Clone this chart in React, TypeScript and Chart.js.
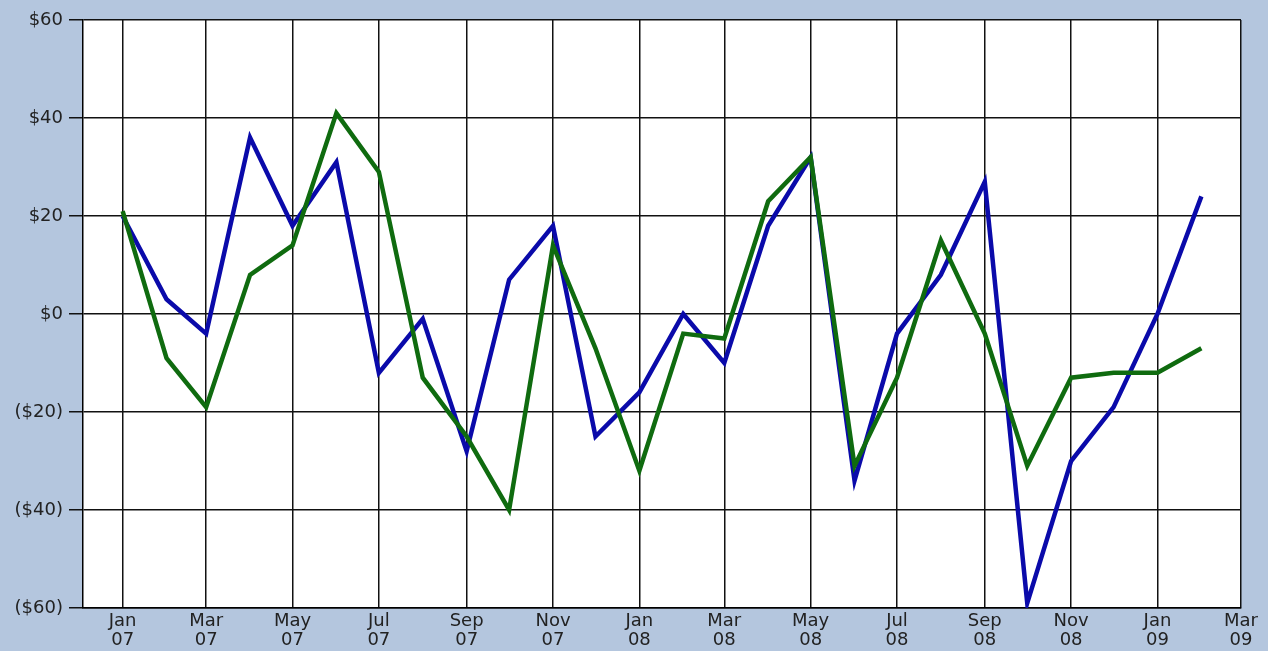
import React, { useEffect, useRef } from "react";
import { Chart, registerables } from "chart.js";

Chart.register(...registerables);

// Monthly observations, Jan 2007 .. Feb 2009
const months: string[] = [
  "2007-01", "2007-02", "2007-03", "2007-04", "2007-05", "2007-06",
  "2007-07", "2007-08", "2007-09", "2007-10", "2007-11", "2007-12",
  "2008-01", "2008-02", "2008-03", "2008-04", "2008-05", "2008-06",
  "2008-07", "2008-08", "2008-09", "2008-10", "2008-11", "2008-12",
  "2009-01", "2009-02",
];

const blueSeries: number[] = [
  20, 3, -4, 36, 18, 31, -12, -1, -28, 7, 18, -25,
  -16, 0, -10, 18, 32, -34, -4, 8, 27, -59, -30, -19,
  0, 24,
];

const greenSeries: number[] = [
  21, -9, -19, 8, 14, 41, 29, -13, -25, -40, 14, -7,
  -32, -4, -5, 23, 32, -31, -13, 15, -4, -31, -13, -12,
  -12, -7,
];

// x-axis tick months (every other month), Jan 07 .. Mar 09
const tickMonths: string[] = [
  "2007-01", "2007-03", "2007-05", "2007-07", "2007-09", "2007-11",
  "2008-01", "2008-03", "2008-05", "2008-07", "2008-09", "2008-11",
  "2009-01", "2009-03",
];

const monthNames: string[] = [
  "Jan", "Feb", "Mar", "Apr", "May", "Jun",
  "Jul", "Aug", "Sep", "Oct", "Nov", "Dec",
];

const yTicks: number[] = [-60, -40, -20, 0, 20, 40, 60];

const DAY = 86400000;
const toDay = (ym: string): number => {
  const [y, m] = ym.split("-").map(Number);
  return Date.UTC(y, m - 1, 1) / DAY;
};
const dayLabel = (d: number): string[] => {
  const dt = new Date(Math.round(d) * DAY);
  return [monthNames[dt.getUTCMonth()], String(dt.getUTCFullYear() % 100).padStart(2, "0")];
};

const chartAreaBg = {
  id: "chartAreaBg",
  beforeDraw(chart: any) {
    const { ctx, chartArea } = chart;
    ctx.save();
    ctx.fillStyle = "#ffffff";
    ctx.fillRect(chartArea.left, chartArea.top, chartArea.right - chartArea.left, chartArea.bottom - chartArea.top);
    ctx.restore();
  },
};

export default function App() {
  const canvasRef = useRef<HTMLCanvasElement | null>(null);

  useEffect(() => {
    document.body.style.margin = "0";
    const canvas = canvasRef.current;
    if (!canvas) return;
    const font = { family: "'DejaVu Sans', Verdana, sans-serif", size: 18, lineHeight: 1.1 };
    const chart = new Chart(canvas, {
      type: "line",
      data: {
        datasets: [
          {
            label: "Green",
            data: months.map((m, i) => ({ x: toDay(m), y: greenSeries[i] })),
            borderColor: "#0f6b0f",
            borderWidth: 4.5,
            pointRadius: 0,
            tension: 0,
            fill: false,
          },
          {
            label: "Blue",
            data: months.map((m, i) => ({ x: toDay(m), y: blueSeries[i] })),
            borderColor: "#0a0aaa",
            borderWidth: 4.5,
            pointRadius: 0,
            tension: 0,
            fill: false,
          },
        ],
      },
      options: {
        animation: false,
        responsive: false,
        maintainAspectRatio: false,
        layout: { padding: { top: 20, right: 27, left: 0, bottom: 0 } },
        plugins: {
          legend: { display: false },
          tooltip: { enabled: false },
        },
        scales: {
          x: {
            type: "linear",
            min: toDay(tickMonths[0]) - 28,
            max: toDay(tickMonths[tickMonths.length - 1]),
            afterBuildTicks: (scale: any) => {
              scale.ticks = tickMonths.map((m) => ({ value: toDay(m) }));
            },
            afterFit: (scale: any) => {
              scale.height = 43;
            },
            ticks: {
              autoSkip: false,
              maxRotation: 0,
              color: "#222222",
              font,
              padding: 3,
              callback: (v: any) => dayLabel(Number(v)),
            },
            grid: { color: "#111111", lineWidth: 1.5, drawTicks: false },
            border: { display: true, color: "#000000", width: 1.5 },
          },
          y: {
            type: "linear",
            min: -60,
            max: 60,
            afterBuildTicks: (scale: any) => {
              scale.ticks = yTicks.map((v) => ({ value: v }));
            },
            afterFit: (scale: any) => {
              scale.width = 83;
            },
            ticks: {
              color: "#222222",
              font,
              padding: 6,
              callback: (v: any) => {
                const n = Number(v);
                return n < 0 ? `($${-n})` : `$${n}`;
              },
            },
            grid: { color: "#111111", lineWidth: 1.5, tickLength: 14 },
            border: { display: true, color: "#000000", width: 1.5 },
          },
        },
      },
      plugins: [chartAreaBg],
    } as any);
    return () => chart.destroy();
  }, []);

  return (
    <div
      style={{
        position: "fixed",
        left: 0,
        top: 0,
        width: 1268,
        height: 651,
        background: "#b4c6de",
      }}
    >
      <canvas ref={canvasRef} width={1268} height={651} style={{ display: "block" }} />
    </div>
  );
}
